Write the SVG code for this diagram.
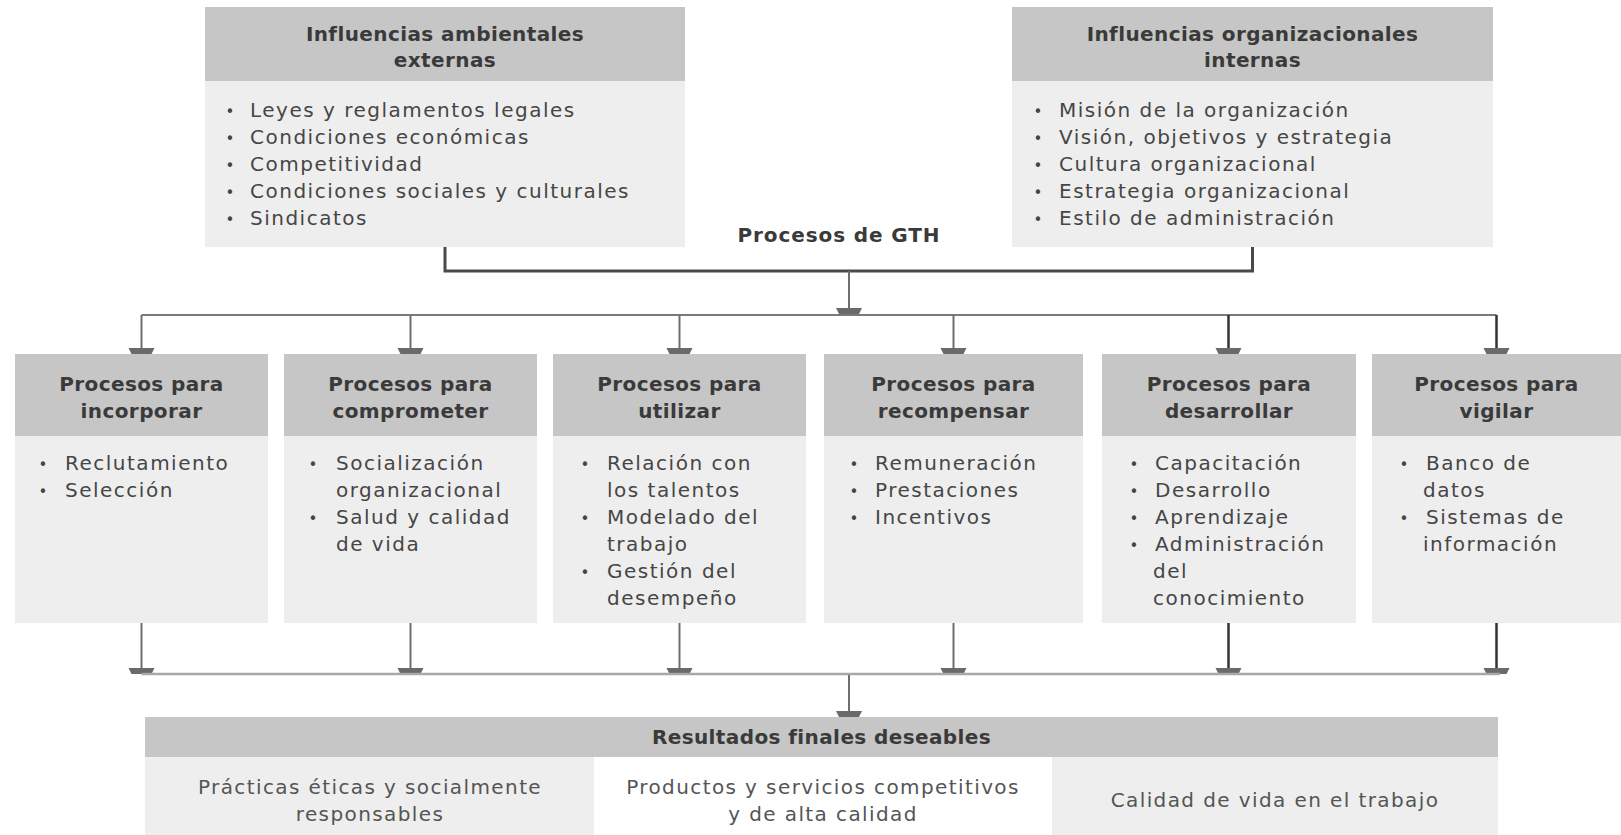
<svg xmlns="http://www.w3.org/2000/svg" width="1621" height="835" viewBox="0 0 1621 835">
  <style>
    .hd { fill: #c6c6c6; }
    .bd { fill: #eeeeee; }
    .wh { fill: #ffffff; }
    .ht { font-family: "DejaVu Sans", "Liberation Sans", sans-serif; font-weight: bold; font-size: 20px; letter-spacing: 0.4px; fill: #3a3a3a; text-anchor: middle; }
    .bt { font-family: "DejaVu Sans", "Liberation Sans", sans-serif; font-size: 20px; letter-spacing: 1.5px; fill: #464646; }
    .dot { font-family: "DejaVu Sans", sans-serif; font-size: 15px; fill: #444444; text-anchor: middle; }
    .ct { font-family: "DejaVu Sans", "Liberation Sans", sans-serif; font-size: 20px; letter-spacing: 1.4px; fill: #555555; text-anchor: middle; }
    .bracket { fill: none; stroke: #4a4a4a; stroke-width: 3; }
    .thin { fill: none; stroke: #7a7a7a; stroke-width: 2; }
    .thinl { fill: none; stroke: #a8a8a8; stroke-width: 2.5; }
    .stem { fill: none; stroke: #6e6e6e; stroke-width: 2; }
    .stemd { fill: none; stroke: #333333; stroke-width: 2.5; }
  </style>
  <defs>
    <!-- flat T-shaped end cap used at the foot of every stem -->
    <marker id="cap" viewBox="-14 -6 28 7" refX="0" refY="0" markerWidth="28" markerHeight="7" markerUnits="userSpaceOnUse" orient="0" overflow="visible">
      <polygon points="-13,-6 13,-6 10,0 -10,0" fill="#6a6a6a"/>
    </marker>
  </defs>

  <!-- Connectors -->
  <g id="connectors">
    <path class="bracket" d="M445,247 V271 H1252.5 V247"/>
    <text class="ht" x="839" y="242" style="letter-spacing:0.9px">Procesos de GTH</text>
    <path class="stem" d="M849,271 V314" marker-end="url(#cap)"/>
    <path class="thin" d="M141.5,315 H1496.5"/>
    <path class="stem" d="M141.5,315 V354" marker-end="url(#cap)"/>
    <path class="stem" d="M410.5,315 V354" marker-end="url(#cap)"/>
    <path class="stem" d="M679.5,315 V354" marker-end="url(#cap)"/>
    <path class="stem" d="M953.5,315 V354" marker-end="url(#cap)"/>
    <path class="stemd" d="M1228.5,315 V354" marker-end="url(#cap)"/>
    <path class="stemd" d="M1496.5,315 V354" marker-end="url(#cap)"/>

    <path class="stem" d="M141.5,623 V674" marker-end="url(#cap)"/>
    <path class="stem" d="M410.5,623 V674" marker-end="url(#cap)"/>
    <path class="stem" d="M679.5,623 V674" marker-end="url(#cap)"/>
    <path class="stem" d="M953.5,623 V674" marker-end="url(#cap)"/>
    <path class="stemd" d="M1228.5,623 V674" marker-end="url(#cap)"/>
    <path class="stemd" d="M1496.5,623 V674" marker-end="url(#cap)"/>
    <path class="thinl" d="M141.5,674 H1500"/>
    <path class="stem" d="M849,675 V717" marker-end="url(#cap)"/>
  </g>

  <!-- External influences -->
  <g id="ext">
    <rect class="hd" x="205" y="7" width="480" height="74"/>
    <rect class="bd" x="205" y="81" width="480" height="166"/>
    <text class="ht" x="445" y="41">Influencias ambientales</text>
    <text class="ht" x="445" y="67">externas</text>
    <text class="dot" x="230" y="117">•</text><text class="bt" x="250" y="117">Leyes y reglamentos legales</text>
    <text class="dot" x="230" y="144">•</text><text class="bt" x="250" y="144">Condiciones económicas</text>
    <text class="dot" x="230" y="171">•</text><text class="bt" x="250" y="171">Competitividad</text>
    <text class="dot" x="230" y="198">•</text><text class="bt" x="250" y="198">Condiciones sociales y culturales</text>
    <text class="dot" x="230" y="225">•</text><text class="bt" x="250" y="225">Sindicatos</text>
  </g>

  <!-- Internal influences -->
  <g id="int">
    <rect class="hd" x="1012" y="7" width="481" height="74"/>
    <rect class="bd" x="1012" y="81" width="481" height="166"/>
    <text class="ht" x="1252.5" y="41">Influencias organizacionales</text>
    <text class="ht" x="1252.5" y="67">internas</text>
    <text class="dot" x="1038" y="117">•</text><text class="bt" x="1059" y="117">Misión de la organización</text>
    <text class="dot" x="1038" y="144">•</text><text class="bt" x="1059" y="144">Visión, objetivos y estrategia</text>
    <text class="dot" x="1038" y="171">•</text><text class="bt" x="1059" y="171">Cultura organizacional</text>
    <text class="dot" x="1038" y="198">•</text><text class="bt" x="1059" y="198">Estrategia organizacional</text>
    <text class="dot" x="1038" y="225">•</text><text class="bt" x="1059" y="225">Estilo de administración</text>
  </g>

  <!-- Process boxes -->
  <g id="p1">
    <rect class="hd" x="15" y="354" width="253" height="82"/>
    <rect class="bd" x="15" y="436" width="253" height="187"/>
    <text class="ht" x="141.5" y="391">Procesos para</text>
    <text class="ht" x="141.5" y="418">incorporar</text>
    <text class="dot" x="43" y="470">•</text><text class="bt" x="65" y="470">Reclutamiento</text>
    <text class="dot" x="43" y="497">•</text><text class="bt" x="65" y="497">Selección</text>
  </g>
  <g id="p2">
    <rect class="hd" x="284" y="354" width="253" height="82"/>
    <rect class="bd" x="284" y="436" width="253" height="187"/>
    <text class="ht" x="410.5" y="391">Procesos para</text>
    <text class="ht" x="410.5" y="418">comprometer</text>
    <text class="dot" x="313" y="470">•</text><text class="bt" x="336" y="470">Socialización</text>
    <text class="bt" x="336" y="497">organizacional</text>
    <text class="dot" x="313" y="524">•</text><text class="bt" x="336" y="524">Salud y calidad</text>
    <text class="bt" x="336" y="551">de vida</text>
  </g>
  <g id="p3">
    <rect class="hd" x="553" y="354" width="253" height="82"/>
    <rect class="bd" x="553" y="436" width="253" height="187"/>
    <text class="ht" x="679.5" y="391">Procesos para</text>
    <text class="ht" x="679.5" y="418">utilizar</text>
    <text class="dot" x="585" y="470">•</text><text class="bt" x="607" y="470">Relación con</text>
    <text class="bt" x="607" y="497">los talentos</text>
    <text class="dot" x="585" y="524">•</text><text class="bt" x="607" y="524">Modelado del</text>
    <text class="bt" x="607" y="551">trabajo</text>
    <text class="dot" x="585" y="578">•</text><text class="bt" x="607" y="578">Gestión del</text>
    <text class="bt" x="607" y="605">desempeño</text>
  </g>
  <g id="p4">
    <rect class="hd" x="824" y="354" width="259" height="82"/>
    <rect class="bd" x="824" y="436" width="259" height="187"/>
    <text class="ht" x="953.5" y="391">Procesos para</text>
    <text class="ht" x="953.5" y="418">recompensar</text>
    <text class="dot" x="854" y="470">•</text><text class="bt" x="875" y="470">Remuneración</text>
    <text class="dot" x="854" y="497">•</text><text class="bt" x="875" y="497">Prestaciones</text>
    <text class="dot" x="854" y="524">•</text><text class="bt" x="875" y="524">Incentivos</text>
  </g>
  <g id="p5">
    <rect class="hd" x="1102" y="354" width="254" height="82"/>
    <rect class="bd" x="1102" y="436" width="254" height="187"/>
    <text class="ht" x="1229" y="391">Procesos para</text>
    <text class="ht" x="1229" y="418">desarrollar</text>
    <text class="dot" x="1134" y="470">•</text><text class="bt" x="1155" y="470">Capacitación</text>
    <text class="dot" x="1134" y="497">•</text><text class="bt" x="1155" y="497">Desarrollo</text>
    <text class="dot" x="1134" y="524">•</text><text class="bt" x="1155" y="524">Aprendizaje</text>
    <text class="dot" x="1134" y="551">•</text><text class="bt" x="1155" y="551">Administración</text>
    <text class="bt" x="1153" y="578">del</text>
    <text class="bt" x="1153" y="605">conocimiento</text>
  </g>
  <g id="p6">
    <rect class="hd" x="1372" y="354" width="249" height="82"/>
    <rect class="bd" x="1372" y="436" width="249" height="187"/>
    <text class="ht" x="1496.5" y="391">Procesos para</text>
    <text class="ht" x="1496.5" y="418">vigilar</text>
    <text class="dot" x="1404" y="470">•</text><text class="bt" x="1426" y="470">Banco de</text>
    <text class="bt" x="1423" y="497">datos</text>
    <text class="dot" x="1404" y="524">•</text><text class="bt" x="1426" y="524">Sistemas de</text>
    <text class="bt" x="1423" y="551">información</text>
  </g>

  <!-- Desired outcomes -->
  <g id="results">
    <rect class="hd" x="145" y="717" width="1353" height="40"/>
    <text class="ht" x="821.5" y="744">Resultados finales deseables</text>
    <rect class="bd" x="145" y="757" width="449" height="78"/>
    <rect class="wh" x="594" y="757" width="458" height="78"/>
    <rect class="bd" x="1052" y="757" width="446" height="78"/>
    <text class="ct" x="370" y="794">Prácticas éticas y socialmente</text>
    <text class="ct" x="370" y="821">responsables</text>
    <text class="ct" x="823" y="794">Productos y servicios competitivos</text>
    <text class="ct" x="823" y="821">y de alta calidad</text>
    <text class="ct" x="1275" y="807">Calidad de vida en el trabajo</text>
  </g>
</svg>
